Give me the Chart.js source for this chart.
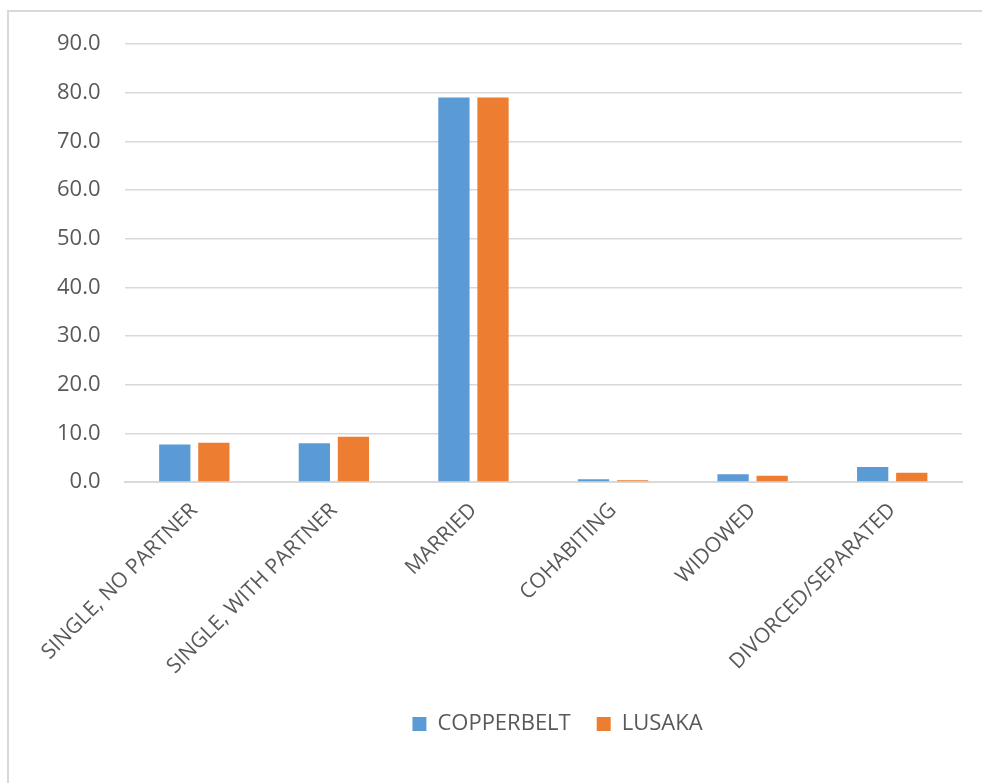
<!DOCTYPE html>
<html>
<head>
<meta charset="utf-8">
<script src="https://cdn.jsdelivr.net/npm/chart.js@4/dist/chart.umd.min.js"></script>
<style>
  html, body { margin: 0; padding: 0; background: #fff; }
  #wrap { position: relative; width: 982px; height: 783px; }
</style>
</head>
<body>
<div id="wrap"><canvas id="maritalChart" width="982" height="783"></canvas></div>
<script>
const categories = ['SINGLE, NO PARTNER', 'SINGLE, WITH PARTNER', 'MARRIED', 'COHABITING', 'WIDOWED', 'DIVORCED/SEPARATED'];
const copperbelt = [7.7, 8.0, 79.0, 0.6, 1.6, 3.1];
const lusaka = [8.1, 9.3, 79.0, 0.4, 1.3, 1.9];
const yTicks = [0, 10, 20, 30, 40, 50, 60, 70, 80, 90];

const textGray = '#595959';
const fontFamily = "'Open Sans', 'Noto Sans', sans-serif";

// frame around the chart, like the spreadsheet chart border
const framePlugin = {
    id: 'frame',
    beforeDraw(chart) {
        const ctx = chart.ctx;
        ctx.save();
        ctx.strokeStyle = '#d9d9d9';
        ctx.lineWidth = 2;
        ctx.strokeRect(8, 11, 1200, 1200);
        ctx.restore();
    }
};

// the legend sits a bit right of the canvas centre in the original
const legendShift = {
    id: 'legendShift',
    afterLayout(chart) {
        const lg = chart.legend;
        if (lg) { lg.left += 60; lg.right += 60; }
    }
};

function setupChart() {
    const ctx = document.getElementById('maritalChart').getContext('2d');
    new Chart(ctx, {
        type: 'bar',
        data: {
            labels: categories,
            datasets: [
                { label: 'COPPERBELT', data: copperbelt, backgroundColor: '#5b9bd5', barPercentage: 0.8, categoryPercentage: 0.56 },
                { label: 'LUSAKA', data: lusaka, backgroundColor: '#ed7d31', barPercentage: 0.8, categoryPercentage: 0.56 }
            ]
        },
        options: {
            responsive: false,
            animation: false,
            layout: { padding: { left: 33, right: 20, top: 44, bottom: 38 } },
            plugins: {
                tooltip: { enabled: false },
                legend: {
                    position: 'bottom',
                    labels: {
                        boxWidth: 14, boxHeight: 14, padding: 26,
                        color: textGray,
                        font: { family: fontFamily, size: 22 }
                    }
                }
            },
            scales: {
                x: {
                    grid: { display: false },
                    border: { display: true, color: '#d9d9d9', width: 2 },
                    ticks: {
                        color: textGray, minRotation: 45, maxRotation: 45, padding: 8,
                        font: { family: fontFamily, size: 21 }
                    }
                },
                y: {
                    min: 0, max: 90,
                    afterBuildTicks: axis => { axis.ticks = yTicks.map(v => ({ value: v })); },
                    grid: { color: '#d9d9d9', lineWidth: 1.5, drawTicks: false },
                    border: { display: false },
                    ticks: {
                        color: textGray, padding: 24,
                        font: { family: fontFamily, size: 22 },
                        callback: v => v.toFixed(1)
                    }
                }
            }
        },
        plugins: [framePlugin, legendShift]
    });
}

document.addEventListener('DOMContentLoaded', setupChart);
</script>
</body>
</html>
